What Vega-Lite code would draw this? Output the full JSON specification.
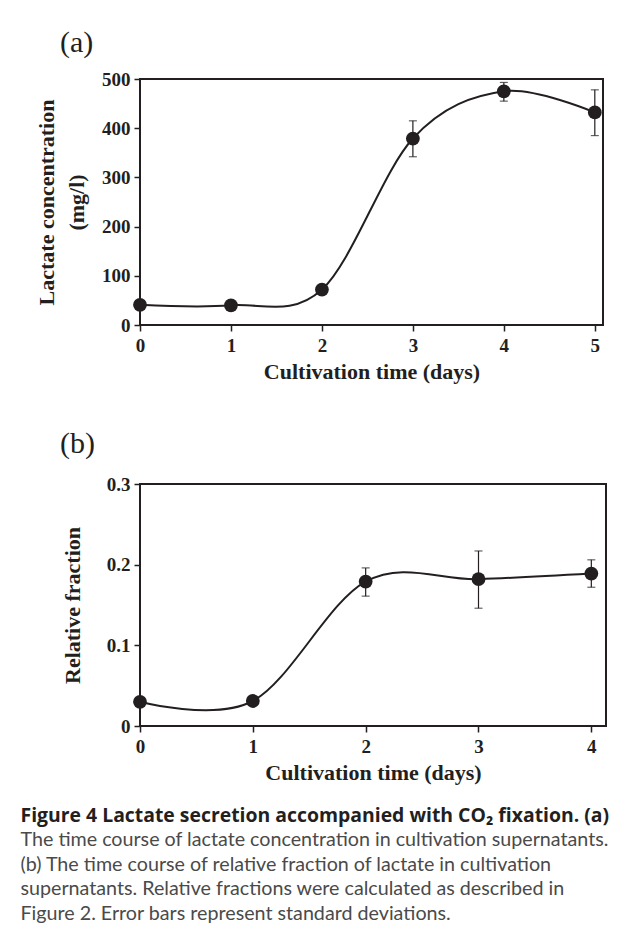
{
  "$schema": "https://vega.github.io/schema/vega-lite/v6.json",
  "background": "white",
  "padding": {"left": 20, "top": 27, "right": 5, "bottom": 5},
  "spacing": 45,
  "config": {
    "view": {"stroke": "#231f20", "strokeWidth": 2},
    "axis": {
      "grid": false,
      "domain": false,
      "labelFont": "Liberation Serif",
      "labelFontWeight": "bold",
      "labelFontSize": 19,
      "labelColor": "#231f20",
      "labelFlush": false,
      "labelOverlap": false,
      "labelPadding": 4,
      "titleFont": "Liberation Serif",
      "titleFontWeight": "bold",
      "titleFontSize": 22,
      "titleColor": "#231f20",
      "tickColor": "#231f20",
      "tickSize": 6,
      "tickWidth": 1.5
    },
    "title": {
      "font": "Liberation Serif",
      "fontSize": 30,
      "fontWeight": "normal",
      "color": "#231f20",
      "anchor": "start",
      "frame": "group",
      "dx": -80
    }
  },
  "title": {
    "text": "Figure 4 Lactate secretion accompanied with CO₂ fixation. (a)",
    "subtitle": [
      "The time course of lactate concentration in cultivation supernatants.",
      "(b) The time course of relative fraction of lactate in cultivation",
      "supernatants. Relative fractions were calculated as described in",
      "Figure 2. Error bars represent standard deviations."
    ],
    "orient": "bottom",
    "anchor": "start",
    "frame": "bounds",
    "dx": -14,
    "offset": 23,
    "font": "Open Sans",
    "fontSize": 19.4,
    "fontWeight": "bold",
    "color": "#231f20",
    "subtitleFont": "Lato",
    "subtitleFontSize": 19.7,
    "subtitleFontWeight": "normal",
    "subtitleColor": "#4a4a4a",
    "subtitleLineHeight": 24.5,
    "subtitlePadding": 4
  },
  "vconcat": [
    {
      "title": {"text": "(a)", "offset": 12},
      "width": 463,
      "height": 246,
      "data": {"values": [
        {"day": 0, "value": 41},
        {"day": 1, "value": 40},
        {"day": 2, "value": 72},
        {"day": 3, "value": 379, "lo": 342, "hi": 415},
        {"day": 4, "value": 475, "lo": 455, "hi": 493},
        {"day": 5, "value": 432, "lo": 385, "hi": 478}
      ]},
      "layer": [
        {
          "mark": {"type": "line", "interpolate": "cardinal", "color": "#231f20", "strokeWidth": 2},
          "encoding": {
            "x": {"field": "day", "type": "quantitative", "scale": {"domain": [0, 5.09], "nice": false}, "axis": {"values": [0, 1, 2, 3, 4, 5], "format": "d", "title": "Cultivation time (days)", "titlePadding": 6, "labelPadding": 5}},
            "y": {"field": "value", "type": "quantitative", "scale": {"domain": [0, 500], "nice": false}, "axis": {"values": [0, 100, 200, 300, 400, 500], "format": "d", "title": ["Lactate concentration", "(mg/l)"], "titleLineHeight": 30, "titlePadding": 13}}
          }
        },
        {
          "mark": {"type": "errorbar", "ticks": {"size": 8, "thickness": 1.2, "color": "#231f20"}, "rule": {"strokeWidth": 1.2, "color": "#231f20"}},
          "encoding": {
            "x": {"field": "day", "type": "quantitative"},
            "y": {"field": "lo", "type": "quantitative", "title": ["Lactate concentration", "(mg/l)"]},
            "y2": {"field": "hi"}
          }
        },
        {
          "mark": {"type": "point", "filled": true, "size": 190, "color": "#231f20", "opacity": 1},
          "encoding": {
            "x": {"field": "day", "type": "quantitative"},
            "y": {"field": "value", "type": "quantitative"}
          }
        }
      ]
    },
    {
      "title": {"text": "(b)", "offset": 16},
      "width": 466,
      "height": 242,
      "data": {"values": [
        {"day": 0, "value": 0.030},
        {"day": 1, "value": 0.031},
        {"day": 2, "value": 0.179, "lo": 0.161, "hi": 0.196},
        {"day": 3, "value": 0.182, "lo": 0.146, "hi": 0.217},
        {"day": 4, "value": 0.189, "lo": 0.172, "hi": 0.206}
      ]},
      "layer": [
        {
          "mark": {"type": "line", "interpolate": "cardinal", "color": "#231f20", "strokeWidth": 2},
          "encoding": {
            "x": {"field": "day", "type": "quantitative", "scale": {"domain": [0, 4.13], "nice": false}, "axis": {"values": [0, 1, 2, 3, 4], "format": "d", "title": "Cultivation time (days)", "titlePadding": 6, "labelPadding": 5}},
            "y": {"field": "value", "type": "quantitative", "scale": {"domain": [0, 0.3], "nice": false}, "axis": {"values": [0, 0.1, 0.2, 0.3], "labelExpr": "datum.value === 0 ? '0' : format(datum.value, '.1f')", "title": "Relative fraction", "titlePadding": 22}}
          }
        },
        {
          "mark": {"type": "errorbar", "ticks": {"size": 8, "thickness": 1.2, "color": "#231f20"}, "rule": {"strokeWidth": 1.2, "color": "#231f20"}},
          "encoding": {
            "x": {"field": "day", "type": "quantitative"},
            "y": {"field": "lo", "type": "quantitative", "title": "Relative fraction"},
            "y2": {"field": "hi"}
          }
        },
        {
          "mark": {"type": "point", "filled": true, "size": 190, "color": "#231f20", "opacity": 1},
          "encoding": {
            "x": {"field": "day", "type": "quantitative"},
            "y": {"field": "value", "type": "quantitative"}
          }
        }
      ]
    }
  ]
}
